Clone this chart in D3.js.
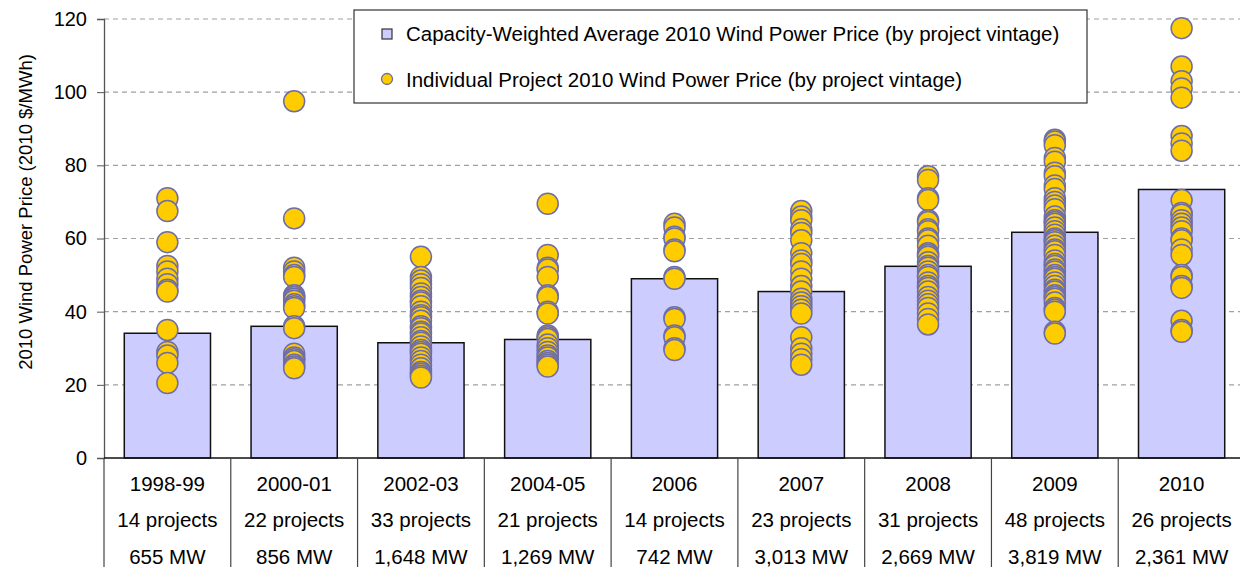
<!DOCTYPE html>
<html>
<head>
<meta charset="utf-8">
<script src="https://cdn.jsdelivr.net/npm/d3@7"></script>
<style>
  body { margin: 0; background: #fff; }
  text { font-family: "Liberation Sans", Arial, sans-serif; fill: #000; }
</style>
</head>
<body>
<div id="chart"></div>
<script>
// vintages and table rows under the axis
const vintages = ["1998-99", "2000-01", "2002-03", "2004-05", "2006", "2007", "2008", "2009", "2010"];
const projectCounts = ["14 projects", "22 projects", "33 projects", "21 projects", "14 projects", "23 projects", "31 projects", "48 projects", "26 projects"];
const capacities = ["655 MW", "856 MW", "1,648 MW", "1,269 MW", "742 MW", "3,013 MW", "2,669 MW", "3,819 MW", "2,361 MW"];

// capacity-weighted average price by vintage
const averagePrice = [34.1, 36.0, 31.5, 32.4, 49.0, 45.5, 52.4, 61.7, 73.4];

// individual project prices by vintage
const projectPrices = [
  [71, 67.5, 59, 52.5, 51, 49, 47.5, 46, 45.5, 35, 29, 28, 26, 20.5],
  [97.5, 65.5, 52, 51, 50, 49.5, 44.5, 44, 43.5, 43, 42, 41.5, 41, 36, 35.5, 28.5, 27.5, 27, 26.5, 25.5, 25, 24.5],
  [55, 49.5, 48.5, 47.5, 46.5, 45, 44, 43, 42.5, 41.5, 40, 39, 38.5, 37.5, 36, 35.5, 34.5, 34, 33, 32, 31.5, 30.5, 29.5, 29, 28.5, 27.5, 26.5, 25.5, 24.5, 23.5, 23, 22.5, 22],
  [69.5, 55.5, 52, 51.5, 49.5, 44.5, 44, 40, 39.5, 33.5, 33, 32.5, 31, 30, 29, 28, 27.5, 26.5, 26, 25.5, 25],
  [64, 63, 60.5, 60, 57, 56.5, 49.5, 49, 38.5, 38, 33.5, 33, 30, 29.5],
  [67.5, 66, 65, 62.5, 61.5, 59.5, 56, 54, 53, 51, 49, 47, 45.5, 43.5, 42.5, 41.5, 40.5, 39.5, 33, 30, 28.5, 27, 25.5],
  [77, 76, 71, 70.5, 65, 64.5, 62.5, 62, 60, 59.5, 58, 56, 55.5, 55, 53.5, 52.5, 52, 51, 50, 49.5, 48, 47, 46.5, 45.5, 44, 43, 42, 41, 39.5, 38, 36.5],
  [87, 86.5, 85.5, 82, 81, 78, 77, 74.5, 73.5, 71, 70, 69, 68, 66, 65, 64.5, 64, 63, 62, 61, 60, 59.5, 59, 58, 57, 56.5, 55.5, 54, 53, 52.5, 51.5, 51, 50, 49.5, 49, 48, 47, 46, 45.5, 44.5, 44, 43.5, 42.5, 41, 40.5, 40, 34.5, 34],
  [117.5, 107, 103, 101, 98.5, 88, 86, 84, 70.5, 67, 66.5, 65, 64, 63, 62, 60, 59.5, 57, 55.5, 50, 49.5, 47, 46.5, 37.5, 35, 34.5]
];

const yTicks = [0, 20, 40, 60, 80, 100, 120];

const legendLabels = [
  "Capacity-Weighted Average 2010 Wind Power Price (by project vintage)",
  "Individual Project 2010 Wind Power Price (by project vintage)"
];

const width = 1240, height = 567;
const margin = { top: 19, right: -5, bottom: 109, left: 104 };

const svg = d3.select("#chart").append("svg")
  .attr("width", width).attr("height", height);

// scales
const x = d3.scaleBand()
  .domain(vintages)
  .range([margin.left, width - margin.right])
  .paddingInner(0.32)
  .paddingOuter(0.16);

const cell = d3.scaleBand()
  .domain(vintages)
  .range([margin.left, width - margin.right]);

const y = d3.scaleLinear()
  .domain([0, 120])
  .range([height - margin.bottom, margin.top]);

// gridlines
svg.append("g")
  .selectAll("line")
  .data(yTicks.filter(d => d > 0))
  .join("line")
  .attr("x1", margin.left).attr("x2", width)
  .attr("y1", d => y(d)).attr("y2", d => y(d))
  .attr("stroke", "#a0a0a0")
  .attr("stroke-width", 1.2)
  .attr("stroke-dasharray", "5,4");

// y axis
const gy = svg.append("g")
  .attr("transform", `translate(${margin.left},0)`)
  .call(d3.axisLeft(y).tickValues(yTicks).tickSize(7).tickPadding(10));
gy.select(".domain").attr("stroke", "#555").attr("stroke-width", 1.3);
gy.selectAll(".tick line").attr("stroke", "#555");
gy.selectAll(".tick text")
  .style("font-size", "20px")
  .style("font-family", "'Liberation Sans', Arial, sans-serif")
  .attr("fill", "#000");

svg.append("text")
  .attr("transform", `translate(26,212) rotate(-90)`)
  .attr("text-anchor", "middle")
  .attr("dy", "0.35em")
  .style("font-size", "18.5px")
  .text("2010 Wind Power Price (2010 $/MWh)");

// bars
svg.append("g")
  .selectAll("rect")
  .data(vintages)
  .join("rect")
  .attr("x", d => x(d))
  .attr("width", x.bandwidth())
  .attr("y", (d, i) => y(averagePrice[i]))
  .attr("height", (d, i) => y(0) - y(averagePrice[i]))
  .attr("fill", "#ccccff")
  .attr("stroke", "#111")
  .attr("stroke-width", 1.5);

// x axis line and table
svg.append("line")
  .attr("x1", margin.left).attr("x2", width)
  .attr("y1", y(0)).attr("y2", y(0))
  .attr("stroke", "#111").attr("stroke-width", 1.5);

svg.append("g")
  .selectAll("line")
  .data(vintages)
  .join("line")
  .attr("x1", d => cell(d)).attr("x2", d => cell(d))
  .attr("y1", y(0)).attr("y2", height)
  .attr("stroke", "#444").attr("stroke-width", 1.2);

const rows = [vintages, projectCounts, capacities];
rows.forEach((row, r) => {
  svg.append("g")
    .selectAll("text")
    .data(row)
    .join("text")
    .attr("x", (d, i) => cell(vintages[i]) + cell.bandwidth() / 2)
    .attr("y", 490.5 + r * 36.5)
    .attr("text-anchor", "middle")
    .style("font-size", "20.5px")
    .text(d => d);
});

// individual project dots
const dots = projectPrices.flatMap((vals, i) => vals.map(v => ({ vintage: vintages[i], value: v })));
svg.append("g")
  .selectAll("circle")
  .data(dots)
  .join("circle")
  .attr("cx", d => x(d.vintage) + x.bandwidth() / 2)
  .attr("cy", d => y(d.value))
  .attr("r", 10.5)
  .attr("fill", "#ffcc00")
  .attr("stroke", "#6d6daa")
  .attr("stroke-width", 1.5);

// legend
const legend = svg.append("g");
legend.append("rect")
  .attr("x", 354).attr("y", 10)
  .attr("width", 733).attr("height", 93)
  .attr("fill", "#fff")
  .attr("stroke", "#333").attr("stroke-width", 1.2);

legend.append("rect")
  .attr("x", 382).attr("y", 29)
  .attr("width", 10).attr("height", 10)
  .attr("fill", "#ccccff").attr("stroke", "#333").attr("stroke-width", 1.2);

legend.append("circle")
  .attr("cx", 387).attr("cy", 79).attr("r", 5.5)
  .attr("fill", "#ffcc00").attr("stroke", "#6d6daa").attr("stroke-width", 1.3);

legend.selectAll("text.lbl")
  .data(legendLabels)
  .join("text")
  .attr("class", "lbl")
  .attr("x", 406)
  .attr("y", (d, i) => 41 + i * 45.5)
  .style("font-size", "20.5px")
  .text(d => d);
</script>
</body>
</html>
